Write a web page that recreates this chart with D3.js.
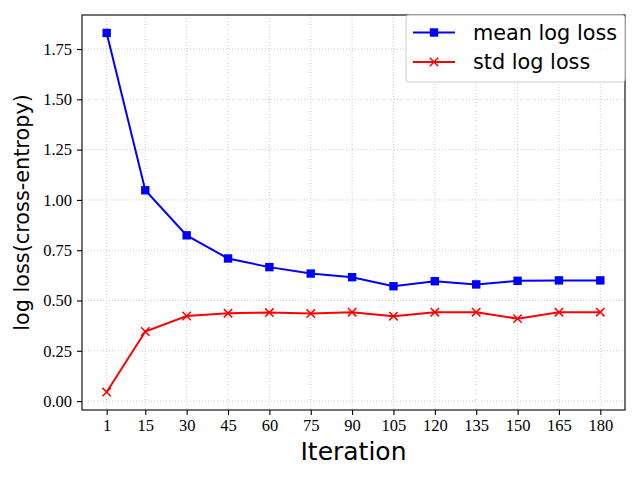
<!DOCTYPE html>
<html>
<head>
<meta charset="utf-8">
<script src="https://cdn.jsdelivr.net/npm/d3@7"></script>
<style>
  body { margin: 0; background: #fff; }
  svg { display: block; }
</style>
</head>
<body>
<div id="plot"></div>
<script>
const iterations = [1, 15, 30, 45, 60, 75, 90, 105, 120, 135, 150, 165, 180];
const meanLogLoss = [1.83, 1.048, 0.824, 0.709, 0.666, 0.634, 0.616, 0.571, 0.596, 0.580, 0.598, 0.600, 0.600];
const stdLogLoss = [0.045, 0.346, 0.423, 0.437, 0.440, 0.435, 0.442, 0.422, 0.442, 0.442, 0.410, 0.442, 0.442];
const yTicks = [0, 0.25, 0.5, 0.75, 1.0, 1.25, 1.5, 1.75];

const W = 640, H = 480;
const margin = { top: 15, right: 15, bottom: 70, left: 82 };
const width = W - margin.left - margin.right,
    height = H - margin.top - margin.bottom;

const svg = d3.select("#plot")
    .append("svg")
    .attr("width", W)
    .attr("height", H);

const g = svg.append("g")
    .attr("transform", "translate(" + margin.left + "," + margin.top + ")");

// matplotlib style 5% margins
const xr = d3.extent(iterations);
const xpad = (xr[1] - xr[0]) * 0.05;
const x = d3.scaleLinear()
    .domain([xr[0] - xpad, xr[1] + xpad])
    .range([0, width]);

const allY = meanLogLoss.concat(stdLogLoss);
const yr = d3.extent(allY);
const ypad = (yr[1] - yr[0]) * 0.05;
const y = d3.scaleLinear()
    .domain([yr[0] - ypad, yr[1] + ypad])
    .range([height, 0]);

// grid
g.append("g")
    .selectAll("line")
    .data(iterations)
    .join("line")
    .attr("x1", d => x(d)).attr("x2", d => x(d))
    .attr("y1", 0).attr("y2", height)
    .attr("stroke", "#cccccc")
    .attr("stroke-width", 1)
    .attr("stroke-dasharray", "1,2");
g.append("g")
    .selectAll("line")
    .data(yTicks)
    .join("line")
    .attr("x1", 0).attr("x2", width)
    .attr("y1", d => y(d)).attr("y2", d => y(d))
    .attr("stroke", "#cccccc")
    .attr("stroke-width", 1)
    .attr("stroke-dasharray", "1,2");

// axes
const xAxis = g.append("g")
    .attr("transform", "translate(0," + height + ")")
    .call(d3.axisBottom(x).tickValues(iterations).tickSize(5).tickPadding(4).tickSizeOuter(0));
const yAxis = g.append("g")
    .call(d3.axisLeft(y).tickValues(yTicks).tickFormat(d3.format(".2f")).tickSize(5).tickPadding(5).tickSizeOuter(0));

[xAxis, yAxis].forEach(a => {
    a.select(".domain").remove();
    a.selectAll("line").attr("stroke", "#000").attr("stroke-width", 1.1);
    a.selectAll("text")
        .attr("fill", "#000")
        .style("font-family", "'Liberation Serif', 'Times New Roman', serif")
        .style("font-size", "16.5px");
});

// frame
g.append("rect")
    .attr("x", 0).attr("y", 0)
    .attr("width", width).attr("height", height)
    .attr("fill", "none")
    .attr("stroke", "#000")
    .attr("stroke-width", 1.1);

const line = d3.line()
    .x((d, i) => x(iterations[i]))
    .y(d => y(d));

// mean series
g.append("path")
    .datum(meanLogLoss)
    .attr("fill", "none")
    .attr("stroke", "#0000ff")
    .attr("stroke-width", 2)
    .attr("d", line);
g.append("g")
    .selectAll("rect")
    .data(meanLogLoss)
    .join("rect")
    .attr("x", (d, i) => x(iterations[i]) - 4.2)
    .attr("y", d => y(d) - 4.2)
    .attr("width", 8.4)
    .attr("height", 8.4)
    .attr("fill", "#0000ff");

// std series
const cross = d3.symbol().type(d3.symbolX).size(36);
g.append("path")
    .datum(stdLogLoss)
    .attr("fill", "none")
    .attr("stroke", "#ff0000")
    .attr("stroke-width", 2)
    .attr("d", line);
g.append("g")
    .selectAll("path")
    .data(stdLogLoss)
    .join("path")
    .attr("transform", (d, i) => "translate(" + x(iterations[i]) + "," + y(d) + ")")
    .attr("d", d3.symbol().type({
        draw: (ctx, size) => {
            const r = 4.2;
            ctx.moveTo(-r, -r); ctx.lineTo(r, r);
            ctx.moveTo(-r, r); ctx.lineTo(r, -r);
        }
    }))
    .attr("stroke", "#ff0000")
    .attr("stroke-width", 1.5)
    .attr("fill", "none");

// axis labels
svg.append("text")
    .attr("x", margin.left + width / 2)
    .attr("y", 460)
    .attr("text-anchor", "middle")
    .style("font-family", "'DejaVu Sans', sans-serif")
    .style("font-size", "25px")
    .text("Iteration");

svg.append("text")
    .attr("transform", "translate(29," + (margin.top + height / 2) + ") rotate(-90)")
    .attr("text-anchor", "middle")
    .style("font-family", "'DejaVu Sans', sans-serif")
    .style("font-size", "20.8px")
    .text("log loss(cross-entropy)");

// legend
const legendItems = [
    { name: "mean log loss", color: "#0000ff", marker: "square" },
    { name: "std log loss", color: "#ff0000", marker: "x" }
];
const lg = svg.append("g").attr("transform", "translate(406,15)");
lg.append("rect")
    .attr("width", 219).attr("height", 67)
    .attr("rx", 3).attr("ry", 3)
    .attr("fill", "#fff").attr("fill-opacity", 0.8)
    .attr("stroke", "#cccccc").attr("stroke-width", 1);
legendItems.forEach((it, i) => {
    const cy = 17.5 + i * 29.5;
    lg.append("line")
        .attr("x1", 7).attr("x2", 49)
        .attr("y1", cy).attr("y2", cy)
        .attr("stroke", it.color).attr("stroke-width", 2);
    if (it.marker === "square") {
        lg.append("rect")
            .attr("x", 28 - 4.2).attr("y", cy - 4.2)
            .attr("width", 8.4).attr("height", 8.4)
            .attr("fill", it.color);
    } else {
        lg.append("path")
            .attr("d", `M${28 - 4.2},${cy - 4.2}L${28 + 4.2},${cy + 4.2}M${28 - 4.2},${cy + 4.2}L${28 + 4.2},${cy - 4.2}`)
            .attr("stroke", it.color).attr("stroke-width", 1.5);
    }
    lg.append("text")
        .attr("x", 67).attr("y", cy)
        .attr("dy", "0.35em")
        .style("font-family", "'DejaVu Sans', sans-serif")
        .style("font-size", "20.8px")
        .text(it.name);
});
</script>
</body>
</html>
